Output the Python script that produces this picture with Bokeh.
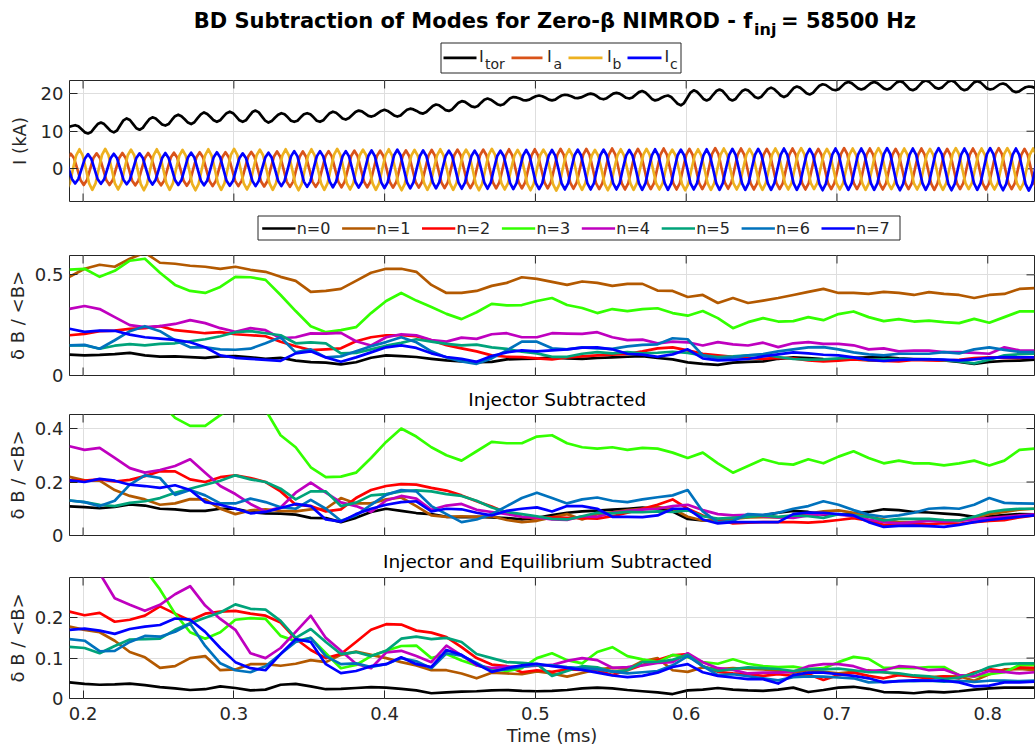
import numpy as np
from bokeh.plotting import figure
from bokeh.layouts import column
from bokeh.models import (Range1d, FixedTicker, LinearAxis, Grid,
                          NumeralTickFormatter)
from bokeh.core.properties import value
from bokeh.embed import file_html
from bokeh.resources import INLINE

# ---------------------------------------------------------------------------
# Injector currents (kA), eight samples per injector period (one row each)
# ---------------------------------------------------------------------------
F_INJ = 58.5                 # kHz
PERIOD = 1.0 / F_INJ         # ms

ITOR_T0 = 0.1862
ITOR = [10.5,10.7,11.1,11.4,11.6,11.3,10.5,9.7,
        9.4,9.8,10.9,11.9,12.3,11.9,11.0,10.1,
        9.7,10.2,11.6,12.9,13.4,13.0,11.9,10.8,
        10.4,10.9,12.1,13.2,13.7,13.4,12.6,11.8,
        11.5,11.9,13.0,14.0,14.4,14.0,13.2,12.3,
        11.9,12.4,13.5,14.5,15.0,14.6,13.8,12.9,
        12.5,12.9,13.9,14.8,15.2,14.8,13.9,12.9,
        12.5,12.9,14.0,15.1,15.5,15.0,13.9,12.8,
        12.3,12.7,13.6,14.4,14.8,14.5,13.7,12.8,
        12.5,12.8,13.7,14.5,14.8,14.5,13.7,12.8,
        12.5,12.9,13.9,14.8,15.2,14.9,14.2,13.4,
        13.1,13.5,14.3,15.1,15.5,15.3,14.7,14.1,
        13.9,14.2,14.8,15.4,15.7,15.4,14.8,14.2,
        13.9,14.2,15.0,15.7,16.0,15.8,15.4,14.9,
        14.7,15.1,15.9,16.7,17.1,16.9,16.3,15.6,
        15.4,15.8,16.7,17.6,18.0,17.8,17.2,16.6,
        16.4,16.7,17.6,18.4,18.7,18.4,17.8,17.2,
        16.9,17.2,18.0,18.8,19.1,19.0,18.7,18.3,
        18.2,18.4,18.9,19.3,19.5,19.3,18.9,18.4,
        18.2,18.4,19.0,19.5,19.7,19.6,19.3,18.9,
        18.8,19.0,19.4,19.8,20.0,19.8,19.3,18.7,
        18.5,18.8,19.4,20.0,20.2,20.0,19.5,18.9,
        18.7,19.0,19.7,20.4,20.7,20.3,19.5,18.6,
        18.2,18.4,18.9,19.3,19.5,19.1,18.2,17.3,
        16.9,17.5,18.9,20.3,20.9,20.5,19.6,18.6,
        18.2,18.6,19.7,20.7,21.1,20.7,19.7,18.6,
        18.2,18.6,19.7,20.7,21.1,20.8,20.0,19.1,
        18.8,19.2,20.2,21.2,21.6,21.2,20.4,19.5,
        19.1,19.5,20.5,21.5,21.9,21.6,20.9,20.1,
        19.8,20.2,21.2,22.1,22.5,22.3,21.7,21.1,
        20.9,21.2,22.0,22.8,23.1,22.8,22.1,21.4,
        21.1,21.4,22.1,22.8,23.1,22.8,22.1,21.4,
        21.1,21.4,22.2,23.0,23.3,23.0,22.1,21.2,
        20.9,21.3,22.2,23.1,23.5,23.2,22.4,21.6,
        21.3,21.6,22.4,23.2,23.5,23.1,22.2,21.3,
        20.9,21.2,22.1,23.0,23.3,23.0,22.2,21.4,
        21.1,21.3,21.9,22.5,22.7,22.4,21.6,20.7,
        20.4,20.6,21.2,21.7,21.9,21.8,21.5,21.1,
        21.0]

IA_T0 = 0.1748
IA = [4.0,2.8,0,-2.9,-4.2,-2.9,0,2.8,
      4.0,2.8,0,-3.0,-4.3,-3.0,0,2.9,
      4.1,2.9,0,-3.0,-4.3,-3.0,0,2.9,
      4.2,2.9,0,-3.1,-4.4,-3.1,0,2.9,
      4.2,2.9,0,-3.1,-4.4,-3.1,0,3.0,
      4.3,3.0,0,-3.2,-4.5,-3.2,0,3.1,
      4.4,3.1,0,-3.2,-4.6,-3.2,0,3.1,
      4.4,3.1,0,-3.2,-4.6,-3.2,0,3.2,
      4.5,3.2,0,-3.3,-4.7,-3.3,0,3.2,
      4.6,3.2,0,-3.4,-4.8,-3.4,0,3.2,
      4.6,3.2,0,-3.4,-4.8,-3.4,0,3.3,
      4.7,3.3,0,-3.4,-4.9,-3.4,0,3.4,
      4.8,3.4,0,-3.4,-4.9,-3.4,0,3.4,
      4.8,3.4,0,-3.5,-5.0,-3.5,0,3.4,
      4.9,3.4,0,-3.5,-5.0,-3.5,0,3.5,
      5.0,3.5,0,-3.6,-5.1,-3.6,0,3.6,
      5.1,3.6,0,-3.6,-5.1,-3.6,0,3.6,
      5.1,3.6,0,-3.6,-5.2,-3.6,0,3.6,
      5.2,3.6,0,-3.6,-5.2,-3.6,0,3.6,
      5.2,3.6,0,-3.6,-5.2,-3.6,0,3.7,
      5.3,3.7,0,-3.7,-5.3,-3.7,0,3.7,
      5.3,3.7,0,-3.8,-5.4,-3.8,0,3.8,
      5.4,3.8,0,-3.9,-5.5,-3.9,0,3.7,
      5.3,3.7,0,-3.8,-5.4,-3.8,0,3.8,
      5.4,3.8,0,-3.9,-5.5,-3.9,0,3.7,
      5.3,3.7,0,-3.8,-5.4,-3.8,0,3.9,
      5.5,3.9,0,-3.7,-5.3,-3.7,0,3.8,
      5.4,3.8,0,-3.9,-5.5,-3.9,0,3.7,
      5.3,3.7,0,-3.8,-5.4,-3.8,0,3.8,
      5.4,3.8,0,-3.9,-5.5,-3.9,0,3.7,
      5.3,3.7,0,-3.8,-5.4,-3.8,0,3.9,
      5.5,3.9,0,-3.8,-5.4,-3.8,0,3.8,
      5.4,3.8,0,-3.9,-5.5,-3.9,0,3.7,
      5.3,3.7,0,-3.8,-5.4,-3.8,0,3.8,
      5.4,3.8,0,-3.9,-5.6,-3.9,0,3.7,
      5.3,3.7,0,-3.8,-5.4,-3.8,0,3.8,
      5.4,3.8,0,-3.9,-5.5,-3.9,0,3.9,
      5.5,3.9,0,-3.8,-5.4,-3.8,0,3.7,
      5.3,3.7,0,-3.9,-5.5,-3.9,0,3.8,
      5.4]

IB_T0 = 0.1805
IB = [5.1,3.6,0,-3.9,-5.6,-3.9,0,3.6,
      5.2,3.6,0,-3.9,-5.6,-3.9,0,3.7,
      5.3,3.7,0,-3.9,-5.5,-3.9,0,3.6,
      5.1,3.6,0,-4.0,-5.7,-4.0,0,3.6,
      5.2,3.6,0,-3.9,-5.6,-3.9,0,3.5,
      5.0,3.5,0,-4.0,-5.7,-4.0,0,3.6,
      5.2,3.6,0,-3.9,-5.6,-3.9,0,3.7,
      5.3,3.7,0,-3.9,-5.5,-3.9,0,3.6,
      5.1,3.6,0,-3.9,-5.6,-3.9,0,3.6,
      5.2,3.6,0,-4.0,-5.7,-4.0,0,3.6,
      5.2,3.6,0,-3.9,-5.6,-3.9,0,3.7,
      5.3,3.7,0,-3.9,-5.5,-3.9,0,3.6,
      5.1,3.6,0,-3.9,-5.6,-3.9,0,3.6,
      5.2,3.6,0,-4.0,-5.7,-4.0,0,3.5,
      5.0,3.5,0,-3.9,-5.6,-3.9,0,3.6,
      5.2,3.6,0,-3.9,-5.6,-3.9,0,3.6,
      5.1,3.6,0,-4.0,-5.7,-4.0,0,3.7,
      5.3,3.7,0,-3.9,-5.5,-3.9,0,3.5,
      5.0,3.5,0,-4.0,-5.7,-4.0,0,3.6,
      5.1,3.6,0,-4.1,-5.8,-4.1,0,3.6,
      5.2,3.6,0,-3.9,-5.6,-3.9,0,3.5,
      5.0,3.5,0,-4.0,-5.7,-4.0,0,3.6,
      5.2,3.6,0,-3.9,-5.6,-3.9,0,3.7,
      5.3,3.7,0,-3.9,-5.5,-3.9,0,3.6,
      5.1,3.6,0,-4.0,-5.7,-4.0,0,3.6,
      5.2,3.6,0,-3.9,-5.6,-3.9,0,3.8,
      5.4,3.8,0,-3.9,-5.5,-3.9,0,3.7,
      5.3,3.7,0,-3.9,-5.6,-3.9,0,3.8,
      5.4,3.8,0,-3.9,-5.5,-3.9,0,3.9,
      5.5,3.9,0,-3.8,-5.4,-3.8,0,3.7,
      5.3,3.7,0,-3.9,-5.5,-3.9,0,3.8,
      5.4,3.8,0,-3.9,-5.6,-3.9,0,3.9,
      5.5,3.9,0,-3.8,-5.4,-3.8,0,3.8,
      5.4,3.8,0,-3.9,-5.5,-3.9,0,3.7,
      5.3,3.7,0,-3.9,-5.6,-3.9,0,3.9,
      5.5,3.9,0,-3.8,-5.4,-3.8,0,3.8,
      5.4,3.8,0,-3.9,-5.5,-3.9,0,3.9,
      5.5,3.9,0,-3.9,-5.5,-3.9,0,3.8,
      5.4,3.8,0,-3.9,-5.6,-3.9,0,3.9,
      5.5]

IC_T0 = 0.1862
IC = [4.0,2.8,0,-2.7,-3.9,-2.7,0,2.7,
      3.9,2.7,0,-2.8,-4.0,-2.8,0,2.8,
      4.0,2.8,0,-2.9,-4.1,-2.9,0,2.9,
      4.1,2.9,0,-2.9,-4.2,-2.9,0,2.9,
      4.2,2.9,0,-3.0,-4.3,-3.0,0,3.0,
      4.3,3.0,0,-3.1,-4.4,-3.1,0,3.1,
      4.4,3.1,0,-3.2,-4.5,-3.2,0,2.9,
      4.1,2.9,0,-3.2,-4.6,-3.2,0,3.0,
      4.3,3.0,0,-3.2,-4.6,-3.2,0,3.3,
      4.7,3.3,0,-3.4,-4.8,-3.4,0,3.3,
      4.7,3.3,0,-3.4,-4.9,-3.4,0,3.3,
      4.7,3.3,0,-3.5,-5.0,-3.5,0,3.4,
      4.9,3.4,0,-3.6,-5.1,-3.6,0,3.6,
      5.1,3.6,0,-3.6,-5.2,-3.6,0,3.4,
      4.9,3.4,0,-3.6,-5.2,-3.6,0,3.4,
      4.8,3.4,0,-3.7,-5.3,-3.7,0,3.4,
      4.8,3.4,0,-3.7,-5.3,-3.7,0,3.4,
      4.8,3.4,0,-3.8,-5.4,-3.8,0,3.5,
      5.0,3.5,0,-3.8,-5.4,-3.8,0,3.5,
      5.0,3.5,0,-3.9,-5.5,-3.9,0,3.6,
      5.1,3.6,0,-3.9,-5.5,-3.9,0,3.6,
      5.1,3.6,0,-3.9,-5.5,-3.9,0,3.5,
      5.0,3.5,0,-3.9,-5.6,-3.9,0,3.6,
      5.2,3.6,0,-3.9,-5.6,-3.9,0,3.6,
      5.1,3.6,0,-3.9,-5.5,-3.9,0,3.6,
      5.2,3.6,0,-3.9,-5.6,-3.9,0,3.7,
      5.3,3.7,0,-3.9,-5.6,-3.9,0,3.7,
      5.3,3.7,0,-3.9,-5.6,-3.9,0,3.8,
      5.4,3.8,0,-3.9,-5.6,-3.9,0,3.7,
      5.3,3.7,0,-4.0,-5.7,-4.0,0,3.8,
      5.4,3.8,0,-3.9,-5.6,-3.9,0,3.8,
      5.4,3.8,0,-3.9,-5.6,-3.9,0,3.9,
      5.5,3.9,0,-4.0,-5.7,-4.0,0,3.8,
      5.4,3.8,0,-3.9,-5.6,-3.9,0,3.9,
      5.5,3.9,0,-4.0,-5.7,-4.0,0,3.8,
      5.4,3.8,0,-3.9,-5.6,-3.9,0,3.9,
      5.5,3.9,0,-4.0,-5.7,-4.0,0,3.8,
      5.4,3.8,0,-4.1,-5.8,-4.1,0,3.9,
      5.5]

# ---------------------------------------------------------------------------
# Mode amplitudes dB/<B>, one sample every 0.01 ms starting at 0.191 ms
# ---------------------------------------------------------------------------
MODE_T0 = 0.191
MODE_DT = 0.01

# full signal
RAW_N0 = [0.104,0.1,0.102,0.106,0.112,0.1,0.094,0.095,0.091,0.088,
          0.095,0.096,0.09,0.083,0.088,0.074,0.066,0.064,0.055,0.066,
          0.088,0.1,0.096,0.092,0.083,0.075,0.07,0.066,0.068,0.08,
          0.083,0.084,0.09,0.085,0.083,0.087,0.09,0.093,0.096,0.087,
          0.08,0.065,0.058,0.053,0.064,0.068,0.07,0.083,0.09,0.087,
          0.082,0.08,0.088,0.09,0.091,0.085,0.082,0.08,0.075,0.068,
          0.058,0.068,0.072,0.074,0.079]
RAW_N1 = [0.49,0.53,0.55,0.54,0.58,0.61,0.56,0.555,0.545,0.54,
          0.53,0.54,0.525,0.515,0.49,0.47,0.415,0.42,0.43,0.47,
          0.51,0.53,0.53,0.515,0.45,0.41,0.41,0.42,0.445,0.46,
          0.488,0.48,0.465,0.45,0.467,0.46,0.445,0.455,0.455,0.422,
          0.42,0.39,0.40,0.36,0.385,0.36,0.372,0.385,0.40,0.415,
          0.43,0.41,0.41,0.405,0.415,0.41,0.40,0.414,0.405,0.40,
          0.385,0.40,0.405,0.43,0.434]
RAW_N2 = [0.2,0.207,0.22,0.223,0.232,0.235,0.245,0.225,0.218,0.21,
          0.215,0.205,0.2,0.195,0.168,0.145,0.126,0.13,0.135,0.17,
          0.19,0.2,0.2,0.195,0.175,0.15,0.135,0.12,0.1,0.093,
          0.091,0.085,0.08,0.09,0.095,0.1,0.103,0.107,0.12,0.135,
          0.14,0.125,0.108,0.1,0.093,0.088,0.083,0.088,0.085,0.075,
          0.07,0.074,0.08,0.075,0.072,0.07,0.078,0.075,0.074,0.078,
          0.086,0.09,0.088,0.087,0.09]
RAW_N3 = [0.526,0.53,0.49,0.52,0.57,0.58,0.51,0.45,0.42,0.41,
          0.44,0.49,0.488,0.475,0.40,0.32,0.245,0.215,0.225,0.24,
          0.31,0.37,0.41,0.372,0.34,0.306,0.28,0.314,0.356,0.348,
          0.35,0.37,0.385,0.35,0.335,0.31,0.33,0.32,0.33,0.334,
          0.31,0.297,0.32,0.285,0.235,0.265,0.285,0.268,0.27,0.29,
          0.275,0.305,0.318,0.29,0.27,0.28,0.268,0.273,0.265,0.26,
          0.281,0.262,0.29,0.318,0.318]
RAW_N4 = [0.331,0.345,0.33,0.29,0.25,0.24,0.245,0.256,0.275,0.26,
          0.235,0.217,0.235,0.225,0.185,0.19,0.209,0.208,0.212,0.17,
          0.149,0.19,0.205,0.2,0.176,0.168,0.188,0.182,0.205,0.21,
          0.19,0.19,0.21,0.208,0.207,0.215,0.19,0.176,0.178,0.16,
          0.168,0.165,0.149,0.166,0.155,0.149,0.163,0.141,0.16,0.166,
          0.157,0.157,0.15,0.13,0.135,0.12,0.124,0.124,0.116,0.116,
          0.112,0.108,0.14,0.125,0.124]
RAW_N5 = [0.15,0.15,0.133,0.148,0.156,0.15,0.157,0.16,0.17,0.18,
          0.195,0.215,0.22,0.21,0.2,0.16,0.165,0.16,0.11,0.112,
          0.13,0.148,0.162,0.18,0.168,0.157,0.15,0.153,0.14,0.132,
          0.118,0.11,0.093,0.093,0.108,0.116,0.11,0.116,0.11,0.113,
          0.118,0.112,0.1,0.092,0.095,0.1,0.103,0.092,0.082,0.079,
          0.08,0.085,0.09,0.076,0.08,0.082,0.08,0.082,0.076,0.07,
          0.06,0.078,0.1,0.106,0.108]
RAW_N6 = [0.15,0.152,0.133,0.175,0.22,0.245,0.22,0.175,0.14,0.14,
          0.13,0.128,0.133,0.16,0.19,0.115,0.13,0.09,0.095,0.12,
          0.145,0.166,0.19,0.165,0.12,0.09,0.07,0.058,0.085,0.125,
          0.168,0.168,0.135,0.13,0.14,0.135,0.132,0.145,0.152,0.155,
          0.185,0.18,0.1,0.083,0.09,0.1,0.106,0.12,0.13,0.14,
          0.141,0.13,0.115,0.105,0.1,0.108,0.108,0.108,0.116,0.11,
          0.13,0.14,0.127,0.117,0.116]
RAW_N7 = [0.232,0.217,0.223,0.222,0.203,0.19,0.183,0.177,0.165,0.14,
          0.1,0.088,0.083,0.078,0.073,0.11,0.12,0.09,0.068,0.09,
          0.115,0.14,0.15,0.137,0.11,0.092,0.083,0.068,0.097,0.115,
          0.125,0.12,0.125,0.13,0.138,0.14,0.13,0.108,0.104,0.093,
          0.105,0.13,0.085,0.075,0.078,0.082,0.095,0.105,0.115,0.11,
          0.103,0.1,0.09,0.078,0.072,0.078,0.08,0.08,0.079,0.075,
          0.08,0.088,0.091,0.09,0.09]

# injector subtracted
INJ_N0 = [0.109,0.106,0.102,0.107,0.116,0.112,0.1,0.098,0.092,0.092,
          0.1,0.1,0.088,0.083,0.082,0.078,0.066,0.065,0.05,0.066,
          0.088,0.1,0.092,0.084,0.08,0.07,0.069,0.07,0.068,0.065,
          0.06,0.066,0.076,0.085,0.09,0.093,0.097,0.1,0.104,0.1,
          0.09,0.062,0.056,0.058,0.065,0.07,0.075,0.085,0.092,0.088,
          0.078,0.078,0.083,0.088,0.098,0.095,0.088,0.086,0.082,0.078,
          0.07,0.072,0.076,0.08,0.079]
INJ_N1 = [0.219,0.206,0.205,0.17,0.148,0.135,0.115,0.12,0.136,0.135,
          0.1,0.08,0.094,0.098,0.092,0.09,0.098,0.1,0.14,0.12,
          0.12,0.135,0.142,0.11,0.075,0.07,0.072,0.07,0.072,0.058,
          0.05,0.055,0.068,0.08,0.06,0.08,0.087,0.095,0.1,0.106,
          0.1,0.07,0.056,0.058,0.062,0.068,0.069,0.068,0.072,0.082,
          0.09,0.094,0.085,0.07,0.06,0.05,0.05,0.056,0.053,0.055,
          0.066,0.08,0.088,0.097,0.1]
INJ_N2 = [0.206,0.205,0.21,0.202,0.208,0.222,0.24,0.24,0.21,0.2,
          0.218,0.225,0.215,0.2,0.165,0.115,0.11,0.09,0.098,0.14,
          0.17,0.185,0.192,0.19,0.178,0.168,0.15,0.128,0.108,0.085,
          0.07,0.065,0.068,0.066,0.065,0.063,0.072,0.085,0.1,0.115,
          0.135,0.1,0.075,0.06,0.045,0.048,0.05,0.05,0.05,0.048,
          0.052,0.058,0.065,0.055,0.04,0.042,0.044,0.042,0.046,0.044,
          0.05,0.055,0.057,0.068,0.075]
INJ_N3 = [0.52,0.53,0.5,0.51,0.56,0.57,0.5,0.44,0.41,0.41,
          0.45,0.49,0.49,0.47,0.375,0.33,0.255,0.218,0.22,0.235,
          0.29,0.35,0.40,0.37,0.33,0.30,0.28,0.315,0.35,0.345,
          0.345,0.37,0.375,0.345,0.33,0.325,0.33,0.32,0.328,0.325,
          0.31,0.29,0.31,0.27,0.235,0.26,0.285,0.27,0.265,0.285,
          0.27,0.295,0.315,0.29,0.27,0.28,0.27,0.27,0.262,0.27,
          0.28,0.262,0.28,0.32,0.325]
INJ_N4 = [0.334,0.32,0.328,0.29,0.252,0.235,0.245,0.26,0.285,0.235,
          0.185,0.155,0.118,0.09,0.105,0.16,0.198,0.16,0.124,0.11,
          0.088,0.131,0.148,0.138,0.096,0.112,0.118,0.096,0.088,0.08,
          0.07,0.068,0.06,0.058,0.072,0.07,0.085,0.092,0.097,0.1,
          0.11,0.115,0.095,0.08,0.075,0.077,0.072,0.068,0.066,0.075,
          0.08,0.078,0.072,0.06,0.05,0.045,0.05,0.055,0.052,0.055,
          0.06,0.065,0.07,0.075,0.079]
INJ_N5 = [0.131,0.125,0.115,0.11,0.122,0.128,0.14,0.16,0.175,0.19,
          0.205,0.225,0.21,0.2,0.175,0.135,0.165,0.165,0.11,0.123,
          0.15,0.155,0.165,0.169,0.165,0.155,0.148,0.13,0.105,0.088,
          0.08,0.072,0.062,0.06,0.072,0.085,0.083,0.088,0.087,0.09,
          0.088,0.094,0.072,0.063,0.066,0.07,0.075,0.07,0.075,0.072,
          0.066,0.08,0.075,0.07,0.056,0.062,0.062,0.062,0.058,0.056,
          0.07,0.088,0.096,0.1,0.1]
INJ_N6 = [0.131,0.125,0.11,0.13,0.19,0.225,0.215,0.152,0.17,0.15,
          0.12,0.12,0.138,0.125,0.106,0.1,0.133,0.1,0.055,0.075,
          0.115,0.152,0.17,0.165,0.11,0.08,0.05,0.06,0.08,0.11,
          0.14,0.16,0.14,0.12,0.135,0.142,0.13,0.125,0.135,0.143,
          0.15,0.17,0.09,0.05,0.055,0.08,0.077,0.085,0.1,0.11,
          0.128,0.115,0.095,0.078,0.07,0.075,0.085,0.1,0.103,0.1,
          0.115,0.14,0.122,0.12,0.119]
INJ_N7 = [0.206,0.2,0.212,0.205,0.19,0.185,0.178,0.188,0.17,0.125,
          0.115,0.1,0.083,0.088,0.103,0.118,0.11,0.06,0.052,0.08,
          0.1,0.115,0.125,0.128,0.09,0.1,0.098,0.085,0.075,0.092,
          0.1,0.105,0.09,0.11,0.11,0.1,0.07,0.07,0.069,0.075,
          0.1,0.1,0.06,0.045,0.05,0.05,0.05,0.05,0.08,0.086,
          0.085,0.08,0.075,0.05,0.032,0.036,0.037,0.035,0.032,0.04,
          0.05,0.058,0.064,0.07,0.075]

# injector and equilibrium subtracted
EQ_N0 = [0.04,0.036,0.034,0.035,0.037,0.033,0.028,0.025,0.021,0.023,
         0.03,0.026,0.02,0.022,0.034,0.036,0.03,0.023,0.024,0.026,
         0.028,0.027,0.024,0.02,0.013,0.015,0.017,0.018,0.02,0.021,
         0.019,0.018,0.019,0.021,0.025,0.027,0.025,0.021,0.018,0.015,
         0.011,0.02,0.022,0.026,0.022,0.02,0.019,0.022,0.027,0.016,
         0.021,0.027,0.029,0.024,0.016,0.015,0.013,0.017,0.015,0.018,
         0.022,0.025,0.027,0.027,0.027]
EQ_N1 = [0.178,0.17,0.164,0.143,0.115,0.102,0.076,0.08,0.1,0.105,
         0.07,0.072,0.085,0.085,0.081,0.086,0.095,0.09,0.108,0.116,
         0.108,0.1,0.09,0.082,0.07,0.07,0.062,0.05,0.064,0.062,
         0.06,0.067,0.062,0.054,0.063,0.072,0.076,0.074,0.092,0.1,
         0.07,0.066,0.077,0.073,0.075,0.073,0.072,0.068,0.064,0.07,
         0.066,0.062,0.066,0.07,0.065,0.06,0.055,0.053,0.055,0.055,
         0.044,0.06,0.072,0.073,0.07]
EQ_N2 = [0.215,0.206,0.212,0.19,0.195,0.205,0.228,0.21,0.193,0.21,
         0.215,0.217,0.21,0.205,0.188,0.148,0.12,0.1,0.11,0.14,
         0.17,0.184,0.183,0.168,0.163,0.152,0.127,0.1,0.084,0.08,
         0.065,0.07,0.066,0.072,0.071,0.07,0.058,0.07,0.083,0.095,
         0.107,0.11,0.08,0.066,0.062,0.06,0.056,0.06,0.056,0.06,
         0.046,0.058,0.064,0.056,0.05,0.058,0.054,0.05,0.055,0.05,
         0.065,0.073,0.068,0.077,0.076]
EQ_N3 = [0.45,0.42,0.40,0.38,0.35,0.32,0.27,0.21,0.164,0.148,
         0.164,0.195,0.199,0.197,0.155,0.142,0.15,0.112,0.075,0.083,
         0.105,0.118,0.13,0.131,0.1,0.11,0.094,0.082,0.073,0.068,
         0.075,0.1,0.112,0.095,0.087,0.115,0.127,0.105,0.097,0.09,
         0.108,0.102,0.09,0.086,0.097,0.086,0.08,0.078,0.079,0.073,
         0.075,0.09,0.103,0.098,0.076,0.076,0.075,0.078,0.078,0.058,
         0.054,0.06,0.065,0.083,0.083]
EQ_N4 = [0.4,0.36,0.31,0.248,0.232,0.217,0.232,0.258,0.278,0.23,
         0.197,0.17,0.112,0.1,0.125,0.165,0.205,0.15,0.118,0.086,
         0.075,0.114,0.118,0.105,0.09,0.131,0.107,0.082,0.075,0.079,
         0.079,0.081,0.083,0.093,0.1,0.095,0.076,0.078,0.082,0.088,
         0.09,0.112,0.09,0.075,0.071,0.062,0.064,0.064,0.066,0.08,
         0.085,0.085,0.08,0.068,0.07,0.08,0.078,0.07,0.072,0.058,
         0.055,0.068,0.066,0.062,0.065]
EQ_N5 = [0.128,0.125,0.112,0.13,0.146,0.147,0.148,0.17,0.186,0.2,
         0.213,0.233,0.222,0.22,0.192,0.15,0.172,0.14,0.11,0.115,
         0.105,0.118,0.148,0.153,0.147,0.15,0.14,0.11,0.1,0.09,
         0.088,0.085,0.056,0.068,0.08,0.077,0.066,0.07,0.09,0.091,
         0.096,0.108,0.08,0.068,0.073,0.077,0.075,0.073,0.068,0.073,
         0.072,0.074,0.07,0.065,0.065,0.062,0.057,0.055,0.048,0.052,
         0.062,0.078,0.085,0.087,0.087]
EQ_N6 = [0.147,0.143,0.117,0.118,0.14,0.155,0.153,0.165,0.185,0.13,
         0.087,0.07,0.065,0.08,0.11,0.14,0.15,0.105,0.085,0.087,
         0.078,0.085,0.1,0.092,0.075,0.112,0.106,0.088,0.068,0.072,
         0.078,0.083,0.082,0.078,0.075,0.072,0.067,0.062,0.065,0.068,
         0.082,0.105,0.08,0.058,0.06,0.055,0.05,0.045,0.053,0.055,
         0.054,0.052,0.05,0.04,0.041,0.043,0.043,0.044,0.042,0.044,
         0.041,0.044,0.044,0.043,0.044]
EQ_N7 = [0.17,0.173,0.168,0.16,0.172,0.178,0.182,0.198,0.195,0.165,
         0.125,0.09,0.075,0.07,0.11,0.147,0.14,0.085,0.063,0.068,
         0.08,0.085,0.102,0.085,0.078,0.12,0.108,0.085,0.066,0.075,
         0.082,0.086,0.08,0.076,0.071,0.064,0.057,0.053,0.056,0.064,
         0.078,0.085,0.065,0.056,0.052,0.048,0.048,0.037,0.058,0.064,
         0.064,0.06,0.056,0.05,0.04,0.043,0.045,0.044,0.044,0.04,
         0.03,0.032,0.04,0.04,0.042]

MODE_LABELS = ["n=0", "n=1", "n=2", "n=3", "n=4", "n=5", "n=6", "n=7"]
MODE_COLORS = ["#000000", "#B35900", "#FF0000", "#33FF00",
               "#BF00BF", "#00A37A", "#0072BD", "#0000FF"]
CURRENT_COLORS = ["#000000", "#D95319", "#EDB120", "#0000FF"]

# ---------------------------------------------------------------------------
# Styling / layout
# ---------------------------------------------------------------------------
FONT = "DejaVu Sans"
INK = "#262626"
GRID = "#DEDEDE"
LW = 2.7
PAGE_W = 1035
LEFT, FRAME_W, RIGHT = 69, 965, 1
T_MIN, T_MAX = 0.191, 0.831
X_TICKS = [0.2, 0.3, 0.4, 0.5, 0.6, 0.7, 0.8]
TICK_LEN = 8


def style_axis(ax, label_gap, tick_gap):
    ax.major_tick_in = TICK_LEN
    ax.major_tick_out = 0
    ax.major_tick_line_color = INK
    ax.minor_tick_line_color = None
    ax.axis_line_color = None
    ax.major_label_standoff = tick_gap
    ax.major_label_text_font = FONT
    ax.major_label_text_font_size = "18px"
    ax.major_label_text_color = INK
    ax.axis_label_standoff = label_gap
    ax.axis_label_text_font = FONT
    ax.axis_label_text_font_size = "18px"
    ax.axis_label_text_font_style = "normal"
    ax.axis_label_text_color = INK


def panel(frame_h, bottom, y_lo, y_hi, y_ticks, y_label, label_gap,
          time_axis=False):
    p = figure(frame_width=FRAME_W, frame_height=frame_h, title=None,
               x_range=Range1d(T_MIN, T_MAX), y_range=Range1d(y_lo, y_hi),
               x_axis_type=None, y_axis_type=None,
               min_border_left=LEFT, min_border_right=RIGHT,
               min_border_top=1, min_border_bottom=bottom,
               output_backend="svg", toolbar_location=None)
    p.background_fill_color = "white"
    p.border_fill_color = "white"
    p.outline_line_color = INK
    p.outline_line_width = 1
    p.add_layout(Grid(dimension=0, ticker=FixedTicker(ticks=X_TICKS),
                      grid_line_color=GRID))
    p.add_layout(Grid(dimension=1, ticker=FixedTicker(ticks=y_ticks),
                      grid_line_color=GRID))

    yax = LinearAxis(ticker=FixedTicker(ticks=y_ticks),
                     formatter=NumeralTickFormatter(format="0.[0]"),
                     axis_label=y_label)
    style_axis(yax, label_gap, 6)
    p.add_layout(yax, "left")

    # inward tick marks on the top and right edges of the box
    dx = TICK_LEN * (T_MAX - T_MIN) / FRAME_W
    dy = TICK_LEN * (y_hi - y_lo) / frame_h
    nx, ny = len(X_TICKS), len(y_ticks)
    p.segment(x0=X_TICKS, y0=[y_hi] * nx, x1=X_TICKS, y1=[y_hi - dy] * nx,
              line_color=INK, line_width=1)
    p.segment(x0=[T_MAX - dx] * ny, y0=y_ticks, x1=[T_MAX] * ny, y1=y_ticks,
              line_color=INK, line_width=1)
    if time_axis:
        xax = LinearAxis(ticker=FixedTicker(ticks=X_TICKS),
                         formatter=NumeralTickFormatter(format="0.0"),
                         axis_label="Time (ms)")
        style_axis(xax, 2, 8)
        p.add_layout(xax, "below")
    else:
        p.segment(x0=X_TICKS, y0=[y_lo] * nx, x1=X_TICKS,
                  y1=[y_lo + dy] * nx, line_color=INK, line_width=1)
    return p


def header(y_top, y_bot):
    """Strip above a panel for titles and legends; its data units are page
    pixels (x to the right, y downwards)."""
    h = figure(frame_width=FRAME_W, frame_height=y_bot - y_top, title=None,
               x_range=Range1d(LEFT, PAGE_W - RIGHT),
               y_range=Range1d(y_bot, y_top),
               x_axis_type=None, y_axis_type=None,
               min_border_left=LEFT, min_border_right=RIGHT,
               min_border_top=0, min_border_bottom=0,
               output_backend="svg", toolbar_location=None)
    h.background_fill_color = "white"
    h.border_fill_color = "white"
    h.outline_line_color = None
    return h


def write(h, x, y, s, size, align="left", bold=False, color="#000000"):
    h.text(x=[x], y=[y], text=[s], text_font=value(FONT),
           text_font_size=value(f"{size}px"),
           text_font_style="bold" if bold else "normal",
           text_align=align, text_baseline="middle", text_color=color)


def times(t0, step, n):
    return t0 + step * np.arange(n)


mode_t = times(MODE_T0, MODE_DT, len(RAW_N0))
DB_LABEL = "δ B / <B>"

# ---- header: main title and current legend ---------------------------------
h0 = header(0, 79)
write(h0, 752, 20.0, "BD Subtraction of Modes for Zero-β NIMROD - f", 21,
      align="right", bold=True)
write(h0, 753.5, 28.5, "inj", 16, bold=True)
write(h0, 780.5, 20.0, "= 58500 Hz", 21, bold=True)
h0.quad(left=440.5, right=680.5, top=42.5, bottom=72.5,
        fill_color="white", line_color=INK, line_width=1)
cur_x0 = [443, 511, 568, 627]
cur_x1 = [476, 542, 602, 661]
h0.segment(x0=cur_x0, y0=[57.3] * 4, x1=cur_x1, y1=[57.3] * 4,
           line_color=CURRENT_COLORS, line_width=LW)
for xt, xs, sub in [(478.5, 484.5, "tor"), (546.5, 553.0, "a"),
                    (606.5, 612.0, "b"), (664.0, 669.5, "c")]:
    write(h0, xt, 56.0, "I", 16, color=INK)
    write(h0, xs, 63.4, sub, 14, color=INK)

# ---- panel 1: currents -------------------------------------------------------
p1 = panel(121, 7, -8.7, 23.5, [0, 10, 20], "I (kA)", 8)
for t0, vals, col in [(ITOR_T0, ITOR, CURRENT_COLORS[0]),
                      (IA_T0, IA, CURRENT_COLORS[1]),
                      (IB_T0, IB, CURRENT_COLORS[2]),
                      (IC_T0, IC, CURRENT_COLORS[3])]:
    p1.line(times(t0, PERIOD / 8, len(vals)), vals,
            line_color=col, line_width=LW, line_join="round")

# ---- header: mode legend -----------------------------------------------------
h2 = header(208, 254)
h2.quad(left=257.5, right=899.5, top=215.5, bottom=239.5,
        fill_color="white", line_color=INK, line_width=1)
leg_x0 = [261.7 + 79.9 * i for i in range(len(MODE_LABELS))]
h2.segment(x0=leg_x0, y0=[228.0] * 8, x1=[x + 33.3 for x in leg_x0],
           y1=[228.0] * 8, line_color=MODE_COLORS, line_width=LW)
h2.text(x=[x + 34.5 for x in leg_x0], y=[228.0] * 8, text=MODE_LABELS,
        text_font=value(FONT), text_font_size=value("16px"),
        text_align="left", text_baseline="middle", text_color=INK)

# ---- panel 2: full mode spectrum ---------------------------------------------
p2 = panel(120, 12, 0, 0.596, [0, 0.5], DB_LABEL, 4)
for vals, col in zip([RAW_N0, RAW_N1, RAW_N2, RAW_N3,
                      RAW_N4, RAW_N5, RAW_N6, RAW_N7], MODE_COLORS):
    p2.line(mode_t, vals, line_color=col, line_width=LW, line_join="round")

# ---- panel 3: injector subtracted --------------------------------------------
h3 = header(387, 413)
write(h3, 556.7, 399.0, "Injector Subtracted", 18.5, align="center")
p3 = panel(121, 12, 0, 0.4525, [0, 0.2, 0.4], DB_LABEL, 4)
for vals, col in zip([INJ_N0, INJ_N1, INJ_N2, INJ_N3,
                      INJ_N4, INJ_N5, INJ_N6, INJ_N7], MODE_COLORS):
    p3.line(mode_t, vals, line_color=col, line_width=LW, line_join="round")

# ---- panel 4: injector and equilibrium subtracted ----------------------------
h4 = header(547, 576)
write(h4, 547.2, 560.5, "Injector and Equilibrium Subtracted", 18.5,
      align="center")
p4 = panel(121, 55, 0, 0.2995, [0, 0.1, 0.2], DB_LABEL, 4, time_axis=True)
for vals, col in zip([EQ_N0, EQ_N1, EQ_N2, EQ_N3,
                      EQ_N4, EQ_N5, EQ_N6, EQ_N7], MODE_COLORS):
    p4.line(mode_t, vals, line_color=col, line_width=LW, line_join="round")

layout = column(h0, p1, h2, p2, h3, p3, h4, p4)
with open("out.html", "w") as fh:
    fh.write(file_html(layout, INLINE, "BD Subtraction of Modes"))
